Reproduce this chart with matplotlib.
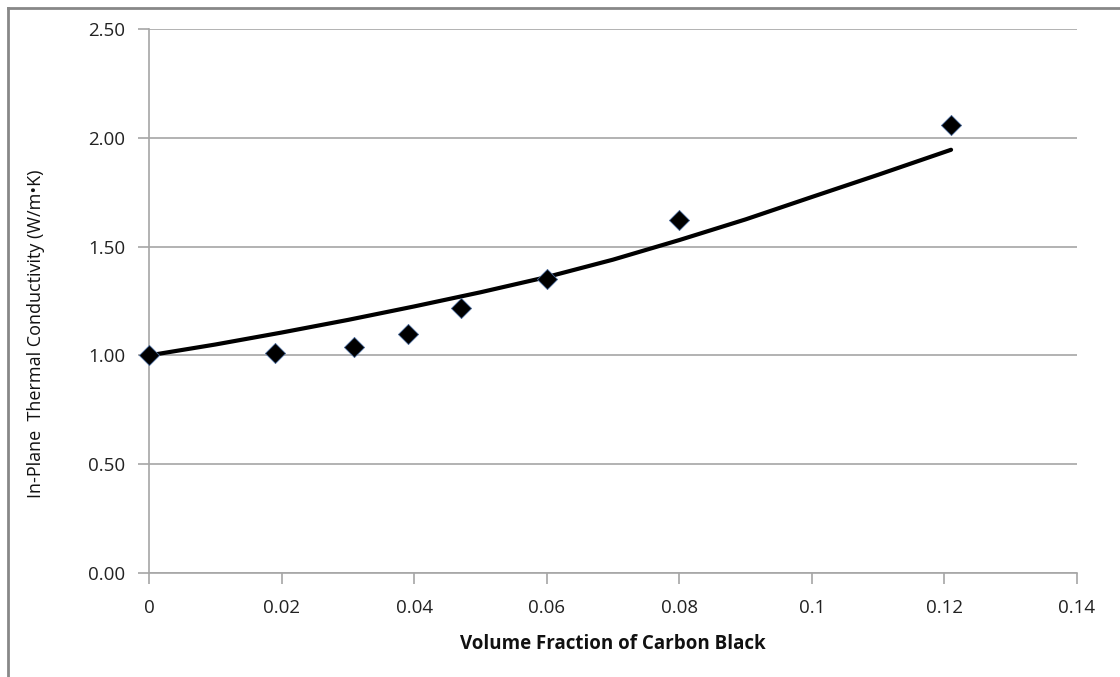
import numpy as np
import matplotlib.pyplot as plt
from matplotlib.lines import Line2D

# Measured data (diamonds)
volume_fraction = [0.0, 0.019, 0.031, 0.039, 0.047, 0.060, 0.080, 0.121]
conductivity = [1.00, 1.01, 1.04, 1.10, 1.22, 1.35, 1.62, 2.06]

# Model curve (black line)
model_x = [0.0, 0.01, 0.02, 0.03, 0.04, 0.05, 0.06, 0.07, 0.08, 0.09, 0.10, 0.11, 0.121]
model_y = [1.00, 1.05, 1.105, 1.163, 1.225, 1.29, 1.36, 1.44, 1.53, 1.625, 1.728, 1.83, 1.945]

x_ticks = [0, 0.02, 0.04, 0.06, 0.08, 0.1, 0.12, 0.14]
x_tick_labels = ['0', '0.02', '0.04', '0.06', '0.08', '0.1', '0.12', '0.14']
y_ticks = [0.0, 0.5, 1.0, 1.5, 2.0, 2.5]

GRID = '#a6a6a6'
plt.rcParams['font.family'] = ['Open Sans', 'DejaVu Sans']

fig = plt.figure(figsize=(11.2, 6.77), dpi=100)
ax = fig.add_axes([149 / 1120, 1 - 573 / 677, (1077 - 149) / 1120, (573 - 29) / 677])

ax.plot(model_x, model_y, color='black', linewidth=3, solid_capstyle='round', zorder=3)
ax.scatter(volume_fraction, conductivity, marker='D', s=105, color='black',
           edgecolors='#4a6a9a', linewidths=0.6, zorder=4, clip_on=False)

ax.set_xlim(0, 0.14)
ax.set_ylim(0, 2.5)
ax.set_xticks(x_ticks)
ax.set_xticklabels(x_tick_labels)
ax.set_yticks(y_ticks)
ax.set_yticklabels([f'{v:.2f}' for v in y_ticks])

ax.grid(axis='y', color=GRID, linewidth=1.2)
ax.set_axisbelow(True)
for side in ['top', 'right']:
    ax.spines[side].set_visible(False)
for side in ['left', 'bottom']:
    ax.spines[side].set_color(GRID)
    ax.spines[side].set_linewidth(1.2)

ax.tick_params(axis='both', colors=GRID, length=8, width=1.2, labelsize=13.5,
               labelcolor='#222222')
ax.tick_params(axis='x', pad=11)
ax.tick_params(axis='y', pad=9)

ax.set_xlabel('Volume Fraction of Carbon Black', fontsize=13.5, fontweight='bold',
              color='#111111')
ax.xaxis.set_label_coords(0.5, -0.112)
ax.set_ylabel('In-Plane  Thermal Conductivity (W/m\u2022K)', fontsize=13,
              color='#111111')
ax.yaxis.set_label_coords(-0.112, 0.44)

# outer chart border (left and top edges visible)
fig.add_artist(Line2D([7.5 / 1120, 7.5 / 1120], [0, 1 - 7.5 / 677],
                      color='#888888', linewidth=2, transform=fig.transFigure))
fig.add_artist(Line2D([7.5 / 1120, 1], [1 - 7.5 / 677, 1 - 7.5 / 677],
                      color='#888888', linewidth=2, transform=fig.transFigure))

plt.savefig('out.png', dpi=100)
